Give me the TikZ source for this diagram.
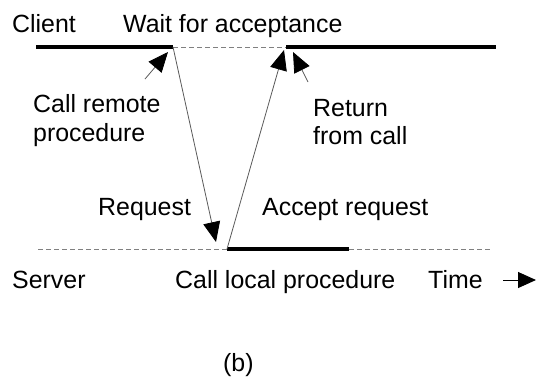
\documentclass[tikz,border=0pt]{standalone}
\usepackage{fontspec}
\setmainfont{Liberation Sans}
\usetikzlibrary{arrows.meta}
\begin{document}
\begin{tikzpicture}[x=1bp,y=-1bp,
  lbl/.style={anchor=base west,inner sep=0pt,font=\fontsize{25}{29}\selectfont},
  thick line/.style={line width=3.6bp,black},
  wait line/.style={line width=0.8bp,gray,dash pattern=on 5bp off 3bp},
  msg/.style={line width=0.8bp,draw=black!65,-{Triangle[length=20bp,width=17bp,color=black]}},
  timearrow/.style={line width=1bp,black,-{Triangle[length=18bp,width=16bp]}}]
\useasboundingbox (0,0) rectangle (537,379);
% coordinates
\coordinate (c0) at (36,47);
\coordinate (c1) at (173,47);
\coordinate (c2) at (286,47);
\coordinate (c3) at (496,47);
\coordinate (s0) at (38,249);
\coordinate (s1) at (227,249);
\coordinate (s2) at (349,249);
\coordinate (s3) at (492,249);
\coordinate (reqtip) at (216,242);
\coordinate (acctip) at (284,50);
\coordinate (crtail) at (145,79);
\coordinate (crtip) at (168,52);
\coordinate (rttail) at (308,82);
\coordinate (rttip) at (293,52);
\coordinate (t0) at (503,280);
\coordinate (t1) at (536,280);
% client timeline
\draw[thick line] (c0) -- (c1);
\draw[wait line] (c1) -- (c2);
\draw[thick line] (c2) -- (c3);
% server timeline
\draw[wait line] (s0) -- (s1);
\draw[thick line] (s1) -- (s2);
\draw[wait line] (s2) -- (s3);
% messages
\draw[msg] (c1) -- (reqtip);
\draw[msg] (s1) -- (acctip);
\draw[msg] (crtail) -- (crtip);
\draw[msg] (rttail) -- (rttip);
\draw[timearrow] (t0) -- (t1);
% labels
\node[lbl] (client) at (12,32) {Client};
\node[lbl] (wait) at (123,32) {Wait for acceptance};
\node[lbl] (cr1) at (33,112) {Call remote};
\node[lbl] (cr2) at (33,141) {procedure};
\node[lbl] (rt1) at (313,116) {Return};
\node[lbl] (rt2) at (313,144) {from call};
\node[lbl] (req) at (98,215) {Request};
\node[lbl] (acc) at (262,215) {Accept request};
\node[lbl] (server) at (12,288) {Server};
\node[lbl] (clp) at (175,288) {Call local procedure};
\node[lbl] (time) at (428,288) {Time};
\node[lbl] (b) at (223,371) {(b)};
\end{tikzpicture}
\end{document}
